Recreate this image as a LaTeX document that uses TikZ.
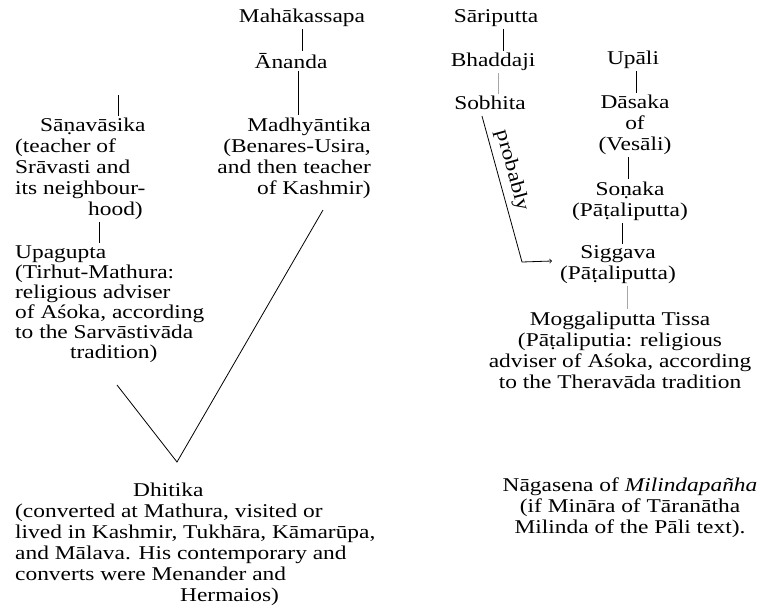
\documentclass[tikz,border=0pt]{standalone}
\usepackage{fontspec}
\setmainfont{Liberation Serif}[FakeStretch=1.2]
\usetikzlibrary{arrows}
\tikzstyle{monk}=[font=\fontsize{19.5pt}{21pt}\selectfont,inner sep=2pt]
\tikzstyle{lineage}=[draw,line width=0.8pt]
\tikzstyle{faintlineage}=[draw,line width=0.8pt,black!35]

\begin{document}
\begin{tikzpicture}[x=1pt,y=-1pt]
\path[use as bounding box,fill=white] (0,0) rectangle (758,608);

    \foreach \pos/\name/\txt in {{(302,18)/mah/Mahākassapa}, {(291,61)/ana/Ānanda}, {(496,18)/sar/Sāriputta}, {(493,62)/bha/Bhaddaji}, {(490,103)/sob/Sobhita}, {(633,60)/upl/Upāli}}
        \node[monk] (\name) at \pos {\txt};

    % left-hand lineage
    \node[monk,align=right,anchor=east] (madh) at (373,158) {Madhyāntika\\(Benares-Usira,\\and then teacher\\of Kashmir)};
    \node[monk,align=left,anchor=west] (sana) at (13,169) {\hspace*{25pt}Sāṇavāsika\\(teacher of\\Srāvasti and\\its neighbour-\\\hspace*{73pt}hood)};
    \node[monk,align=left,anchor=west,font=\fontsize{19.5pt}{20pt}\selectfont] (upg) at (13,304) {Upagupta\\(Tirhut-Mathura:\\religious adviser\\of Aśoka, according\\to the Sarvāstivāda\\\hspace*{55pt}tradition)};
    \node[monk,align=left,anchor=west] (dhi) at (13,544) {\hspace*{118pt}Dhitika\\(converted at Mathura, visited or\\lived in Kashmir, Tukhāra, Kāmarūpa,\\and Mālava. His contemporary and\\converts were Menander and\\\hspace*{165pt}Hermaios)};

    % right-hand lineage
    \node[monk,align=center] (das) at (635,125) {Dāsaka\\of\\(Vesāli)};
    \node[monk,align=center] (son) at (630,201) {Soṇaka\\(Pāṭaliputta)};
    \node[monk,align=center] (sig) at (618,265) {Siggava\\(Pāṭaliputta)};
    \node[monk,align=center] (mog) at (620,350) {Moggaliputta Tissa\\(Pāṭaliputia: religious\\adviser of Aśoka, according\\to the Theravāda tradition};
    \node[monk,align=center] (nag) at (630,508) {Nāgasena of \textit{Milindapañha}\\(if Mināra of Tāranātha\\Milinda of the Pāli text).};

    \foreach \source/ \dest/\dx in {mah/ana/0, ana/madh/7, sar/bha/7, upl/das/3, das/son/-7, son/sig/-8}
        \path[lineage] ([xshift=\dx pt]\source.south) -- ([xshift=\dx pt]\source.south |- \dest.north);

    \foreach \source/ \dest/\dx in {bha/sob/5, sig/mog/9}
        \path[faintlineage] ([xshift=\dx pt]\source.south) -- ([xshift=\dx pt]\source.south |- \dest.north);

    \coordinate (stub) at (118,95);
    \path[lineage] (stub) -- (stub |- sana.north);
    \path[lineage] (99,0 |- sana.south) -- (99,0 |- upg.north);

    \coordinate (vl) at (117,385);
    \coordinate (apex) at (177,462);
    \coordinate (vr) at (323,210);
    \path[lineage] (vl) -- (apex) -- (vr);

    \coordinate (kink) at (522,262);
    \path[lineage,->] ([xshift=-8pt,yshift=-4pt]sob.south) -- node[monk,sloped,above=3pt,pos=0.4] {probably} (kink) -- ([xshift=-6pt,yshift=4pt]sig.west);

\end{tikzpicture}
\end{document}
